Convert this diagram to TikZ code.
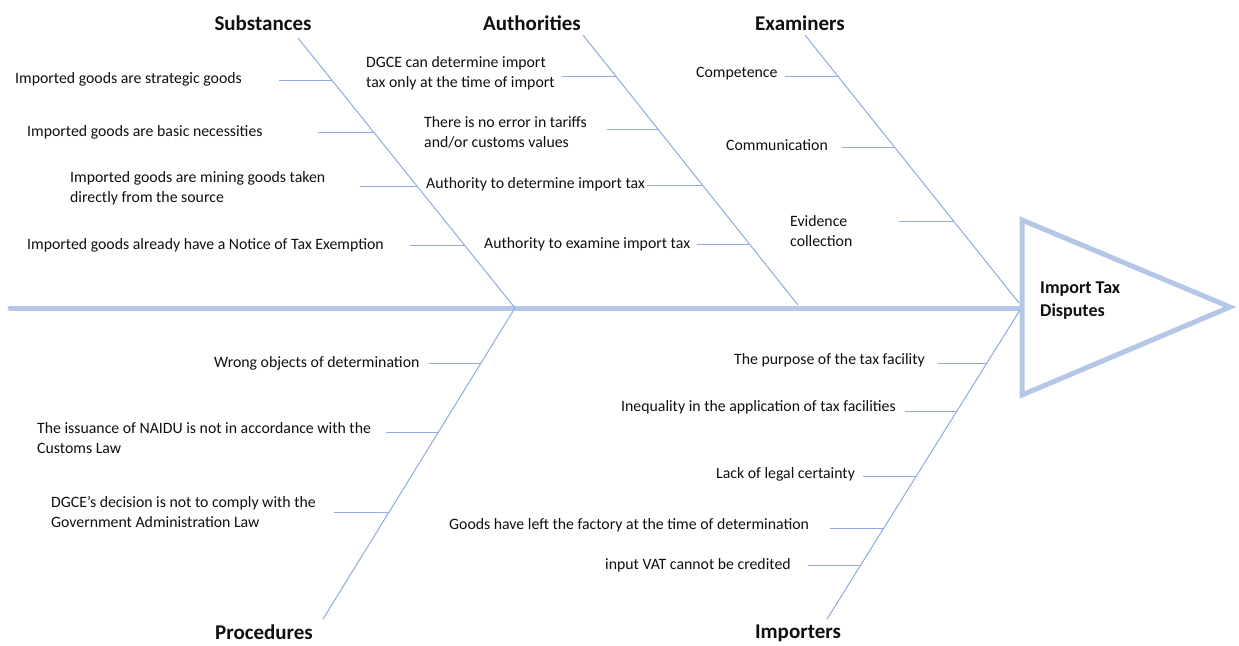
\documentclass[tikz,border=0pt]{standalone}
\usepackage{fontspec}
\setmainfont{Carlito}
\definecolor{spinec}{RGB}{180,199,231}
\definecolor{bonec}{RGB}{143,170,220}
\definecolor{txtc}{RGB}{15,15,15}
\begin{document}
\begin{tikzpicture}[x=1pt,y=-1pt,
  cause/.style={anchor=west,inner sep=0pt,align=left,text=txtc,font=\fontsize{15.8}{20}\selectfont},
  cat/.style={inner sep=0pt,text=txtc,font=\fontsize{21}{25}\selectfont\bfseries},
  headtxt/.style={anchor=west,inner sep=0pt,align=left,text=txtc,font=\fontsize{18}{23}\selectfont\bfseries},
  bonel/.style={draw=bonec,line width=1pt},
  spinel/.style={draw=spinec,line width=5pt}]
\useasboundingbox (0,0) rectangle (1239,645);

% spine and head
\coordinate (tail) at (10,308);
\coordinate (htop) at (1022,220);
\coordinate (hmid) at (1022,308);
\coordinate (hbot) at (1022,395);
\coordinate (hapex) at (1230,307);
\draw[spinel,line cap=round] (tail) -- (hmid);
\draw[spinel,fill=white,line join=miter] (htop) -- (hapex) -- (hbot) -- cycle;
\node[headtxt] (head) at (1040,301) {Import Tax\\Disputes};

% category labels
\node[cat] (substances) at (263,23) {Substances};
\node[cat] (authorities) at (532,23) {Authorities};
\node[cat] (examiners) at (800,23) {Examiners};
\node[cat,anchor=base] (procedures) at (264,639) {Procedures};
\node[cat,anchor=base] (importers) at (798,638) {Importers};

% main bones
\coordinate (sA) at (298,38);  \coordinate (eA) at (515,308);
\coordinate (sB) at (583,35);  \coordinate (eB) at (798,305);
\coordinate (sC) at (805,35);  \coordinate (eC) at (1019,303);
\coordinate (sD) at (323,619); \coordinate (eD) at (515,308);
\coordinate (sE) at (827,619); \coordinate (eE) at (1020,310);
\draw[bonel] (sA) -- (eA);
\draw[bonel] (sB) -- (eB);
\draw[bonel] (sC) -- (eC);
\draw[bonel] (sD) -- (eD);
\draw[bonel] (sE) -- (eE);

% Substances
\node[cause] (a1) at (15,79) {Imported goods are strategic goods};
\node[cause] (a2) at (27,132) {Imported goods are basic necessities};
\node[cause] (a3) at (70,188) {Imported goods are mining goods taken\\directly from the source};
\node[cause] (a4) at (27,245) {Imported goods already have a Notice of Tax Exemption};
\coordinate (a1s) at (279,80);  \coordinate (a1b) at (332,80);
\coordinate (a2s) at (318,132); \coordinate (a2b) at (374,132);
\coordinate (a3s) at (360,186); \coordinate (a3b) at (417,186);
\coordinate (a4s) at (410,245); \coordinate (a4b) at (464,245);
\draw[bonel] (a1s) -- (a1b);
\draw[bonel] (a2s) -- (a2b);
\draw[bonel] (a3s) -- (a3b);
\draw[bonel] (a4s) -- (a4b);

% Authorities
\node[cause] (b1) at (366,73) {DGCE can determine import\\tax only at the time of import};
\node[cause] (b2) at (424,132) {There is no error in tariffs\\and/or customs values};
\node[cause] (b3) at (426,184) {Authority to determine import tax};
\node[cause] (b4) at (484,244) {Authority to examine import tax};
\coordinate (b1s) at (562,76);  \coordinate (b1b) at (616,76);
\coordinate (b2s) at (607,129); \coordinate (b2b) at (658,129);
\coordinate (b3s) at (647,185); \coordinate (b3b) at (702,185);
\coordinate (b4s) at (697,244); \coordinate (b4b) at (749,244);
\draw[bonel] (b1s) -- (b1b);
\draw[bonel] (b2s) -- (b2b);
\draw[bonel] (b3s) -- (b3b);
\draw[bonel] (b4s) -- (b4b);

% Examiners
\node[cause] (c1) at (696,74) {Competence};
\node[cause] (c2) at (726,145) {Communication};
\node[cause] (c3) at (790,231) {Evidence\\collection};
\coordinate (c1s) at (785,76);  \coordinate (c1b) at (838,76);
\coordinate (c2s) at (842,147); \coordinate (c2b) at (894,147);
\coordinate (c3s) at (899,221); \coordinate (c3b) at (953,221);
\draw[bonel] (c1s) -- (c1b);
\draw[bonel] (c2s) -- (c2b);
\draw[bonel] (c3s) -- (c3b);

% Procedures
\node[cause] (d1) at (214,363) {Wrong objects of determination};
\node[cause] (d2) at (37,438) {The issuance of NAIDU is not in accordance with the\\Customs Law};
\node[cause] (d3) at (51,512) {DGCE's decision is not to comply with the\\Government Administration Law};
\coordinate (d1s) at (429,363); \coordinate (d1b) at (481,363);
\coordinate (d2s) at (386,432); \coordinate (d2b) at (438,432);
\coordinate (d3s) at (334,512); \coordinate (d3b) at (389,512);
\draw[bonel] (d1s) -- (d1b);
\draw[bonel] (d2s) -- (d2b);
\draw[bonel] (d3s) -- (d3b);

% Importers
\node[cause] (e1) at (734,360) {The purpose of the tax facility};
\node[cause] (e2) at (621,407) {Inequality in the application of tax facilities};
\node[cause] (e3) at (716,474) {Lack of legal certainty};
\node[cause] (e4) at (449,525) {Goods have left the factory at the time of determination};
\node[cause] (e5) at (605,565) {input VAT cannot be credited};
\coordinate (e1s) at (938,363); \coordinate (e1b) at (987,363);
\coordinate (e2s) at (905,411); \coordinate (e2b) at (957,411);
\coordinate (e3s) at (863,476); \coordinate (e3b) at (916,476);
\coordinate (e4s) at (830,528); \coordinate (e4b) at (884,528);
\coordinate (e5s) at (808,565); \coordinate (e5b) at (860,565);
\draw[bonel] (e1s) -- (e1b);
\draw[bonel] (e2s) -- (e2b);
\draw[bonel] (e3s) -- (e3b);
\draw[bonel] (e4s) -- (e4b);
\draw[bonel] (e5s) -- (e5b);
\end{tikzpicture}
\end{document}
